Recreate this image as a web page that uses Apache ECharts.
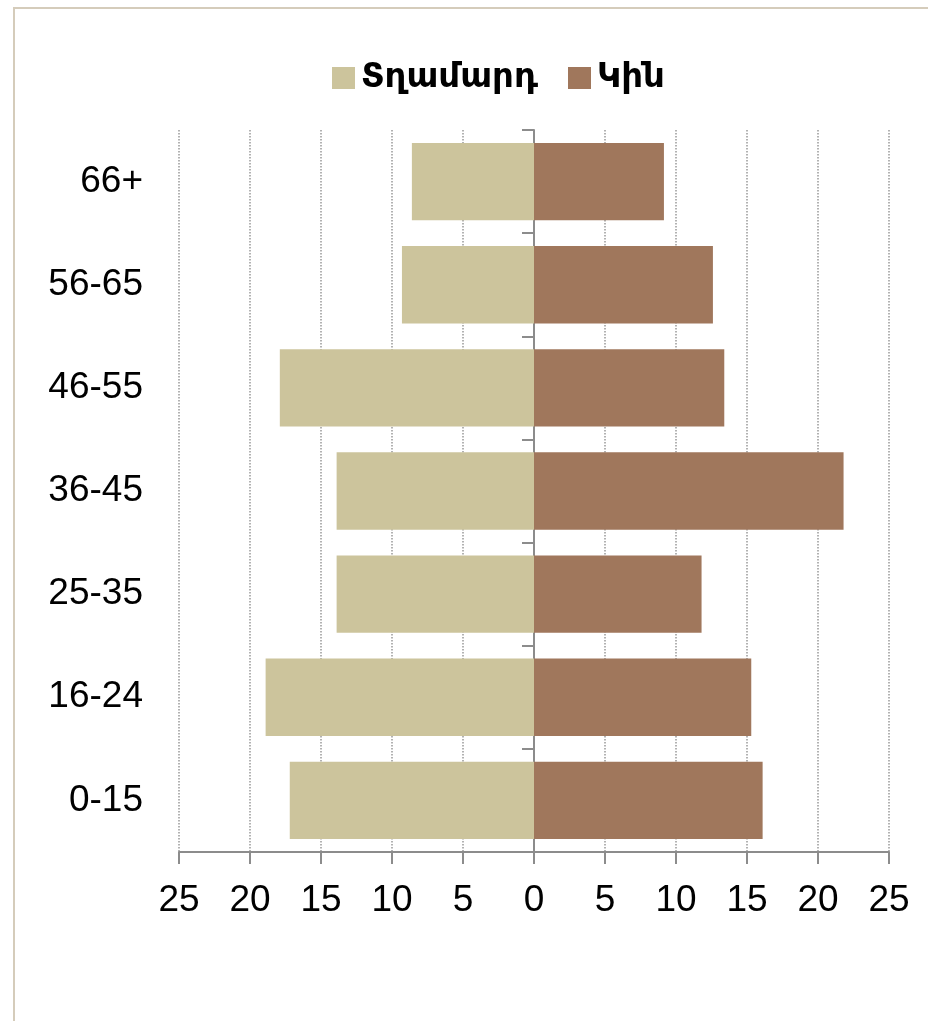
<!DOCTYPE html>
<html>
<head>
<meta charset="utf-8">
<script src="https://cdn.jsdelivr.net/npm/echarts@6/dist/echarts.min.js"></script>
<style>
  html, body { margin: 0; padding: 0; background: #fff; }
  #frame {
    position: absolute; left: 13px; top: 7px; width: 1000px; height: 1100px;
    border-top: 2px solid #d5ccbb; border-left: 2px solid #d5ccbb;
  }
  #main { position: absolute; left: 0; top: 0; width: 928px; height: 1021px; }
</style>
</head>
<body>
<div id="frame"></div>
<div id="main"></div>
<script>
// age groups, bottom to top
const ageGroups = ['0-15', '16-24', '25-35', '36-45', '46-55', '56-65', '66+']
const men = [17.2, 18.9, 13.9, 13.9, 17.9, 9.3, 8.6]
const women = [16.1, 15.3, 11.8, 21.8, 13.4, 12.6, 9.15]
const xTicks = [-25, 25, 5]

const font = 'Liberation Sans, DejaVu Sans, sans-serif'
const legendFont = 'DejaVu Sans, sans-serif'
const axisGray = '#8c8c8c'

var myChart = echarts.init(document.getElementById('main'))
myChart.setOption({
  animation: false,
  legend: {
    top: 56,
    left: 327,
    itemWidth: 23,
    itemHeight: 22,
    itemGap: 30,
    icon: 'rect',
    textStyle: {
      fontFamily: legendFont, fontSize: 34, fontWeight: 'bold', color: '#000',
      padding: [0, 0, 0, 1]
    },
    data: ['Տղամարդ', 'Կին']
  },
  grid: { left: 179, right: 39, top: 130, bottom: 169, containLabel: false },
  xAxis: {
    type: 'value',
    min: xTicks[0],
    max: xTicks[1],
    interval: xTicks[2],
    axisLine: { show: true, onZero: false, lineStyle: { color: axisGray, width: 2 } },
    axisTick: { show: true, length: 12, lineStyle: { color: axisGray, width: 2 } },
    axisLabel: {
      margin: 30,
      fontFamily: font,
      fontSize: 37,
      color: '#000',
      formatter: v => Math.abs(v)
    },
    splitLine: { show: true, lineStyle: { color: '#999', type: 'dotted', width: 1.5 } }
  },
  yAxis: [
    {
      type: 'category',
      data: ageGroups,
      axisLine: { show: false, onZero: false },
      axisTick: { show: false },
      axisLabel: { margin: 36, fontFamily: font, fontSize: 37, color: '#000' }
    },
    {
      type: 'category',
      data: ageGroups,
      position: 'left',
      axisLine: { show: true, onZero: true, lineStyle: { color: axisGray, width: 2 } },
      axisTick: { show: true, length: 12, lineStyle: { color: axisGray, width: 2 } },
      axisLabel: { show: false }
    }
  ],
  series: [
    {
      name: 'Տղամարդ',
      type: 'bar',
      stack: 'all',
      barCategoryGap: '25%',
      itemStyle: { color: '#ccc49c' },
      data: men.map(v => -v)
    },
    {
      name: 'Կին',
      type: 'bar',
      stack: 'all',
      barCategoryGap: '25%',
      itemStyle: { color: '#a0775c' },
      data: women
    }
  ]
})
</script>
</body>
</html>
